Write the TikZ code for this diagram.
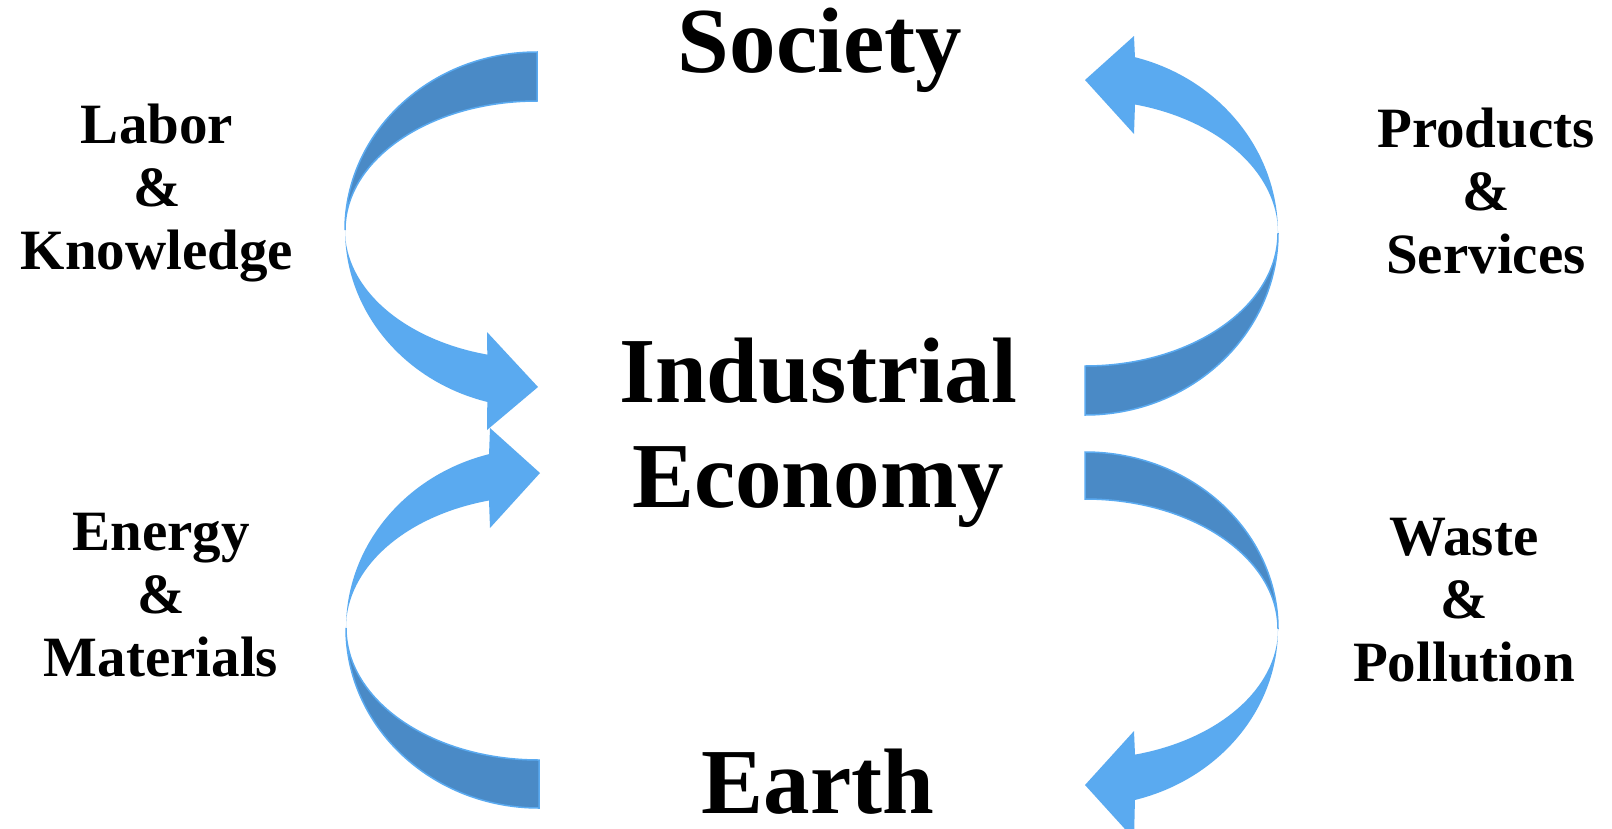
\documentclass[tikz,border=0pt]{standalone}
\usepackage{fontspec}
\setmainfont{Liberation Serif}
\usepackage{tikz}
\definecolor{flowlight}{RGB}{90,170,240}
\definecolor{flowdark}{RGB}{74,138,198}
\tikzstyle{title}=[font=\fontsize{93}{105}\selectfont\bfseries, align=center, anchor=base, inner sep=0pt]
\tikzstyle{flowlabel}=[font=\fontsize{57}{63}\selectfont\bfseries, align=center, anchor=base, inner sep=0pt]
\tikzstyle{front}=[fill=flowlight]
\tikzstyle{back}=[fill=flowdark, draw=flowlight, line width=1.5pt]

\begin{document}
\begin{tikzpicture}[x=1pt, y=-1pt]
		   \clip (0,0) rectangle (1612,828);
		   \fill[white] (0,0) rectangle (1612,828);
		   \begin{scope}
			   \coordinate (laborc) at (537,230);
			   \coordinate (productsc) at (1085,233);
			   \coordinate (energyc) at (539,628);
			   \coordinate (wastec) at (1085,629);
		   \end{scope}
		   \begin{scope}[shift={(laborc)}]
			   \path[back] (0,-178) arc[start angle=-90, end angle=-180, x radius=192, y radius=178] arc[start angle=180, end angle=270, x radius=192, y radius=129] -- cycle;
			   \path[front] (-192,0) arc[start angle=180, end angle=105, x radius=192, y radius=178] -- (-50,200) -- (1,157) -- (-50,102) -- (-49.7,124.6) arc[start angle=105, end angle=180, x radius=192, y radius=129] -- cycle;
		   \end{scope}
		   \begin{scope}[shift={(energyc)}]
			   \path[back] (0,180) arc[start angle=90, end angle=180, x radius=193, y radius=180] arc[start angle=180, end angle=90, x radius=193, y radius=132] -- cycle;
			   \path[front] (-193,0) arc[start angle=180, end angle=255, x radius=193, y radius=180] -- (-49,-200) -- (1,-155) -- (-49,-100) -- (-50,-127.5) arc[start angle=255, end angle=180, x radius=193, y radius=132] -- cycle;
		   \end{scope}
		   \begin{scope}[shift={(productsc)}]
			   \path[back] (0,182) arc[start angle=90, end angle=0, x radius=193, y radius=182] arc[start angle=0, end angle=90, x radius=193, y radius=133] -- cycle;
			   \path[front] (193,0) arc[start angle=0, end angle=-75, x radius=193, y radius=182] -- (49,-197) -- (0,-153) -- (49,-99) -- (50,-128.5) arc[start angle=-75, end angle=0, x radius=193, y radius=133] -- cycle;
		   \end{scope}
		   \begin{scope}[shift={(wastec)}]
			   \path[back] (0,-177) arc[start angle=-90, end angle=0, x radius=193, y radius=177] arc[start angle=0, end angle=-90, x radius=193, y radius=130] -- cycle;
			   \path[front] (193,0) arc[start angle=0, end angle=75, x radius=193, y radius=177] -- (49,210) -- (0,156) -- (49,102) -- (50,125.6) arc[start angle=75, end angle=0, x radius=193, y radius=130] -- cycle;
		   \end{scope}
		   \begin{scope}
			   \node (society) at (820,72)[title] {Society};
			   \node (economy) at (818,507)[title] {Industrial\\Economy};
			   \node (earth) at (818,813)[title, align=none, text depth=0pt] {Earth};
			   \node (labor) at (157,269)[flowlabel] {Labor\\\&\\Knowledge};
			   \node (products) at (1486,273)[flowlabel] {Products\\\&\\Services};
			   \node (energy) at (161,676)[flowlabel] {Energy\\\&\\Materials};
			   \node (waste) at (1464,681)[flowlabel] {Waste\\\&\\Pollution};
		   \end{scope}
	   \end{tikzpicture}
\end{document}
